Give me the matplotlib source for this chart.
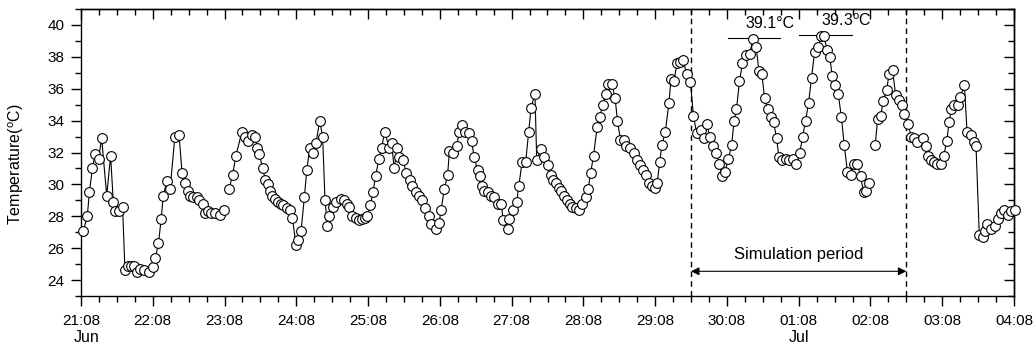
import numpy as np
import matplotlib
matplotlib.use("Agg")
import matplotlib.pyplot as plt
from matplotlib.ticker import MultipleLocator, NullFormatter

plt.rcParams['font.family'] = ['Liberation Sans', 'DejaVu Sans']
plt.rcParams['mathtext.fontset'] = 'custom'
plt.rcParams['mathtext.rm'] = 'Liberation Sans'

# hours since 21 Jun 08:00, temperature (degC); nan = gap in the record
hours = [0.8, 2.1, 2.8, 3.8, 4.7, 5.9, 6.9, 8.6, 9.9, 10.8, 11.5, 12.6, 13.9, 14.7, 15.6, 16.7,
         17.8, 18.6, 19.7, 21.1, 22.9, 24.0, 24.9, 25.9, 26.8, 27.5, 28.7, 29.8, 31.4, 32.8, 33.8,
         34.9, 35.7, 36.6, 37.6, 38.7, 39.6, 40.7, 41.5, 42.6, 43.6, 44.8, 46.5, 47.9, 48.7,
         49.5, 50.7, 51.8, 53.8, 54.9, 56.0, 57.3, 58.2, 59.0, 59.6, 60.8, 61.6, 62.6, 63.3, 64.0,
         64.9, 65.8, 66.9, 67.7, 68.8, 69.9, 70.7, 71.9, 72.7, 73.6, 74.7, 75.5, 76.5, 77.6, 78.6,
         79.8, 80.8, 81.6, 82.4, 83.0, 84.2, 85.3, 86.8, 87.9, 88.8, 89.6, 90.7, 91.8, 92.9, 94.0,
         94.9, 95.7, 96.8, 97.6, 98.5, 99.6, 100.5, 101.6, 103.0, 103.9, 104.7, 105.8, 106.5,
         107.7, 108.8, 109.9, 110.8, 111.9, 113.0, 114.1, 115.2, 116.4, 117.2, 118.7, 119.8,
         120.4, 121.5, 122.6, 123.2, 124.5, 125.6, 126.5, 127.4, 128.5, 129.6, 130.6, 131.5,
         132.6, 133.4, 134.1, 134.9, 136.0, 137.1, 138.2, 139.3, 140.5, 141.2, 142.7, 143.2,
         144.4, 145.7, 146.4, 147.5, 148.7, 149.7, 150.5, 151.8, 152.4, 153.8, 154.7, 156.1,
         157.1, 158.0, 158.8, 159.9, 160.6, 161.4, 162.5, 163.4, 164.3, 165.4, 166.6, 167.7,
         168.8, 169.6, 170.4, 171.4, 172.6, 173.4, 174.5, 175.5, 176.3, 177.6, 178.6, 179.4,
         180.4, 181.5, 182.4, 183.5, 184.8, 185.8, 186.9, 187.9, 188.9, 189.8, 190.8, 191.9,
         192.7, 193.5, 194.3, 195.4, 196.6, 197.3, 198.3, 199.3, 200.3, 201.4, 202.5, 203.8,
         204.8, 205.9, 207.2, 208.2, 209.2, 210.3, 211.5, 212.4, 213.4, 214.4, 215.4, 216.5,
         217.6, 218.4, 219.2, 220.2, 221.2, 222.5, 223.6, 224.7, 225.8, 226.7, 227.7, 228.6,
         229.6, 230.6, 231.6, 232.6, 233.4, 234.4, 235.6, 236.7, 238.1, 239.2, 240.4, 241.3,
         242.3, 243.3, 244.3, 245.3, 246.4, 247.6, 248.4, 249.6, 250.4, 251.2, 252.3, 253.2,
         254.3, 255.2, 256.3, 257.4, 258.5, 259.6, 260.7, 261.7, 262.6, 263.5, 264.5, 265.6,
         266.4, 267.4, 268.3, 269.4, 270.2, 271.4, 272.4, 273.4, 274.4, 275.3, 276.6, 277.6,
         278.5, 279.6, 281.5, 282.6, 283.3, 284.1, 285.1, 286.3, 287.5, 288.5, 289.5, 290.3,
         291.0, 292.0, 293.3, 294.1, 295.4, 296.3, 297.5, 298.5, 299.3, 300.4, 301.5, 302.2,
         303.0, 304.3, 305.5, 306.6, 307.7, 308.6, 309.9, 311.0, 312.2]
temps = [27.1, 28.0, 29.5, 31.0, 31.9, 31.6, 32.9, 29.3, 31.8, 28.9, 28.3, 28.3, 28.6, 24.6, 24.9, 24.9,
         24.9, 24.5, 24.7, 24.6, 24.5, 24.8, 25.4, 26.3, 27.8, 29.3, 30.2, 29.7, 33.0, 33.1, 30.7,
         30.1, 29.6, 29.3, 29.2, 29.2, 29.0, 28.8, 28.2, 28.3, 28.2, 28.2, 28.1, 28.4, np.nan,
         29.7, 30.6, 31.8, 33.3, 33.0, 32.7, 33.1, 33.0, 32.3, 31.9, 31.0, 30.3, 30.0, 29.6, 29.3,
         29.1, 28.9, 28.8, 28.7, 28.5, 28.4, 27.9, 26.2, 26.5, 27.1, 29.2, 30.9, 32.3, 32.0, 32.6,
         34.0, 33.0, 29.0, 27.4, 28.0, 28.6, 28.9, 29.1, 29.0, 28.8, 28.6, 28.0, 27.9, 27.75, 27.8,
         27.9, 28.0, 28.7, 29.5, 30.5, 31.6, 32.3, 33.3, 32.3, 32.6, 31.0, 32.3, 31.7,
         31.5, 30.7, 30.3, 29.9, 29.5, 29.25, 29.0, 28.5, 28.0, 27.5, 27.2, 27.6,
         28.4, 29.7, 30.6, 32.1, 32.0, 32.4, 33.3, 33.7, 33.3, 33.2, 32.7, 31.7,
         30.9, 30.5, 29.9, 29.6, 29.5, 29.3, 29.2, 28.8, 28.8, 27.75, 27.2, 27.8,
         28.4, 28.9, 29.9, 31.4, 31.4, 33.3, 34.8, 35.7, 31.5, 32.2, 31.7, 31.2,
         30.6, 30.3, 30.1, 29.8, 29.6, 29.3, 29.0, 28.8, 28.6, 28.5, 28.4, 28.75,
         29.2, 29.7, 30.7, 31.8, 33.6, 34.2, 35.0, 35.7, 36.3, 36.3, 35.4, 34.0,
         32.8, 32.8, 32.4, 32.3, 32.0, 31.5, 31.2, 30.9, 30.6, 30.1, 29.9, 29.8,
         30.1, 31.4, 32.5, 33.3, 35.1, 36.6, 36.5, 37.6, 37.7, 37.8, 36.9, 36.4,
         34.3, 33.2, 33.4, 32.9, 33.8, 33.0, 32.4, 32.0, 31.3, 30.5, 30.8, 31.6,
         32.5, 34.0, 34.7, 36.5, 37.6, 38.1, 38.2, 39.1, 38.6, 37.1, 36.9, 35.4,
         34.7, 34.2, 33.9, 32.9, 31.7, 31.5, 31.6, 31.5, 31.6, 31.3, 32.0, 33.0,
         34.0, 35.1, 36.7, 38.3, 38.6, 39.3, 39.3, 38.4, 38.0, 36.8, 36.25, 35.7,
         34.2, 32.5, 30.8, 30.6, 31.3, 31.3, 30.5, 29.5, 29.6, 30.1, np.nan, 32.5,
         34.1, 34.3, 35.25, 35.9, 36.9, 37.2, 35.6, 35.3, 35.0, 34.4, 33.8, 33.0,
         32.9, 32.65, 32.9, 32.4, 31.75, 31.5, 31.4, 31.3, 31.3, 31.8, 32.7, 33.9,
         34.7, 35.0, 35.0, 35.5, 36.25, 33.3, 33.1, 32.65, 32.4, 26.8, 26.7, 27.1,
         27.5, 27.2, 27.4, 27.8, 28.2, 28.4, 28.1, 28.3, 28.4]

tick_hours = list(range(0, 313, 24))
tick_labels = ["21:08", "22:08", "23:08", "24:08", "25:08", "26:08", "27:08", "28:08",
               "29:08", "30:08", "01:08", "02:08", "03:08", "04:08"]
sim_start, sim_end = 204, 276
peak1_span, peak1 = (216.2, 233.6), 39.1
peak2_span, peak2 = (240.0, 257.7), 39.3

fig = plt.figure(figsize=(10.35, 3.45), dpi=100)
ax = fig.add_axes([81/1035, 1 - 296/345, 933/1035, 287/345])

ax.plot(hours, temps, color='black', lw=0.8, marker='o', ms=7, mfc='white',
        mec='black', mew=0.8, clip_on=False, zorder=3)

ax.set_xlim(0, 312)
ax.set_ylim(23, 41)
ax.set_xticks(tick_hours)
ax.set_xticklabels(tick_labels, fontsize=11)
ax.xaxis.set_minor_locator(MultipleLocator(6))
ax.set_yticks(range(24, 41, 2))
ax.yaxis.set_minor_locator(MultipleLocator(1))
ax.tick_params(axis='y', labelsize=11)
ax.tick_params(which='major', direction='out', length=7, width=1, pad=5)
ax.tick_params(which='minor', direction='out', length=4, width=1)
ax.tick_params(axis='x', which='major', pad=6)

top = ax.secondary_xaxis('top')
top.set_xticks(tick_hours)
top.xaxis.set_minor_locator(MultipleLocator(6))
top.xaxis.set_major_formatter(NullFormatter())
top.tick_params(which='major', direction='in', length=7, width=1)
top.tick_params(which='minor', direction='in', length=4, width=1)
right = ax.secondary_yaxis('right')
right.set_yticks(range(24, 41, 2))
right.yaxis.set_minor_locator(MultipleLocator(1))
right.yaxis.set_major_formatter(NullFormatter())
right.tick_params(which='major', direction='in', length=7, width=1)
right.tick_params(which='minor', direction='in', length=4, width=1)
for s in list(ax.spines.values()) + [top.spines['top'], right.spines['right']]:
    s.set_linewidth(1.0)

ax.set_ylabel("Temperature($^{\\rm o}$C)", fontsize=11.5)
ax.yaxis.set_label_coords(-0.059, 0.46)

ax.text(2, -0.145, "Jun", transform=ax.get_xaxis_transform(), fontsize=11.5, ha='center', va='center')
ax.text(240, -0.145, "Jul", transform=ax.get_xaxis_transform(), fontsize=11.5, ha='center', va='center')

# simulation period
for xv in (sim_start, sim_end):
    ax.axvline(xv, color='black', ls=(0, (4, 3)), lw=1)
ax.annotate('', xy=(sim_start, 24.55), xytext=(sim_end, 24.55),
            arrowprops=dict(arrowstyle='<|-|>', color='black', lw=0.8,
                            mutation_scale=12, shrinkA=0, shrinkB=0))
ax.text((sim_start + sim_end) / 2, 25.6, "Simulation period", fontsize=12,
        ha='center', va='center')

# peak markers
ax.plot(peak1_span, [peak1 + 0.1] * 2, color='black', lw=0.8)
ax.plot(peak2_span, [peak2 + 0.1] * 2, color='black', lw=0.8)
ax.text(222.2, 40.1, "39.1°C", fontsize=11.5, ha='left', va='center')
ax.text(247.3, 40.25, "39.3$^{\\rm o}$C", fontsize=11.5, ha='left', va='center')

fig.savefig("out.png", dpi=100)
